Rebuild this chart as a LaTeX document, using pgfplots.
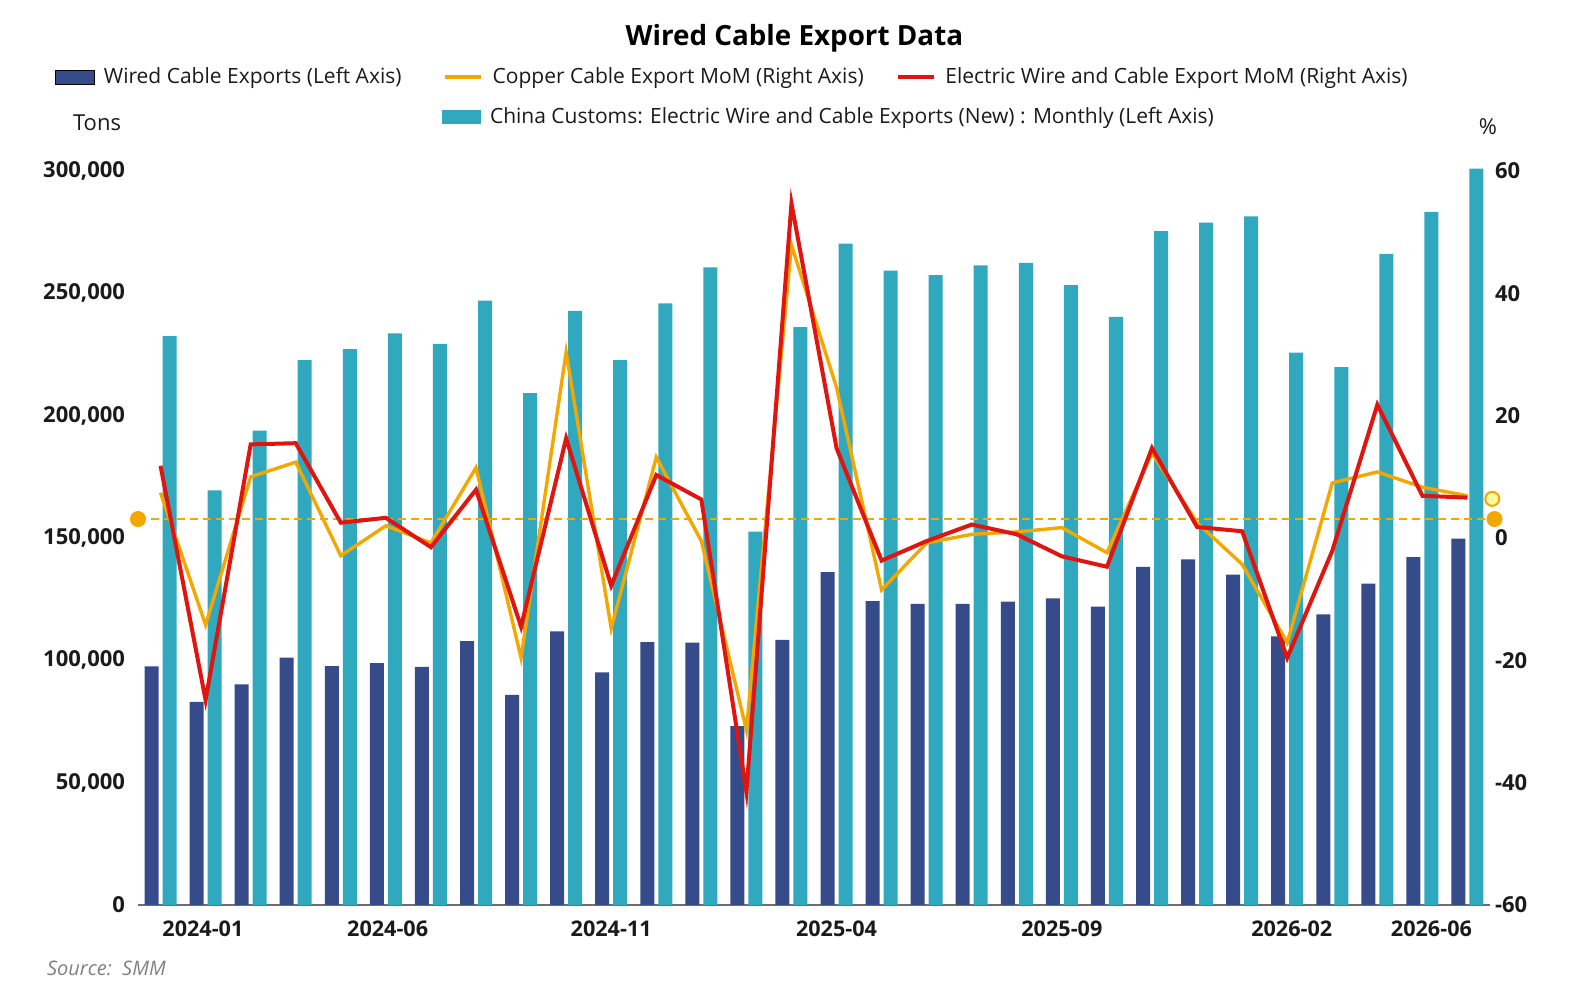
\documentclass[border=0pt]{standalone}
\usepackage{pgfplots}
\usepackage{pgfplotstable}
\pgfplotsset{compat=1.18}
\usepackage{fontspec}
\setmainfont{Open Sans}
\definecolor{navy}{RGB}{54,76,138}
\definecolor{tealc}{RGB}{48,169,191}
\definecolor{orng}{RGB}{244,167,0}
\definecolor{redl}{RGB}{224,21,15}
\definecolor{axgray}{RGB}{110,110,110}
\definecolor{txt}{RGB}{26,26,26}

\pgfplotstableread{
k dark teal red orng
0 97500 232500 11.8 7.4
1 83000 169500 -26.5 -14.2
2 90200 193900 15.3 10.0
3 101100 222700 15.5 12.4
4 97600 227200 2.5 -2.9
5 98900 233600 3.3 2.0
6 97300 229300 -1.5 -0.8
7 107900 247000 7.9 11.5
8 85900 209200 -14.5 -19.6
9 111800 242800 16.3 30.4
10 95100 222700 -7.8 -14.8
11 107400 245900 10.3 13.2
12 107200 260600 6.3 -0.5
13 73100 152600 -41.5 -31.4
14 108400 236200 54.7 47.9
15 136000 270300 14.7 24.6
16 124200 259300 -3.7 -8.5
17 123100 257400 -0.5 -0.8
18 123100 261400 2.2 0.6
19 124000 262400 0.6 1.0
20 125300 253400 -3.0 1.7
21 121900 240400 -4.7 -2.4
22 138200 275400 14.7 13.9
23 141300 278900 1.8 2.5
24 135000 281400 1.1 -4.3
25 109800 225800 -19.6 -17.1
26 118800 219800 -2.1 9.0
27 131300 266100 21.8 10.8
28 142200 283300 6.9 8.3
29 149700 301000 6.6 6.9
}\data

\pgfplotsset{
  barleg/.style={legend image code/.code={\fill[##1] (0pt,-3.5pt) rectangle (19.5pt,3.5pt);}},
  lineleg/.style={legend image code/.code={\draw[##1,line width=2.4pt] (0pt,0pt) -- (18pt,0pt);}},
  commonleg/.style={legend style={draw=none, fill=none, inner sep=0pt, outer sep=0pt,
      anchor=west, nodes={inner sep=0pt, text=txt, font=\fontsize{10.5}{12}\selectfont},
      /tikz/every odd column/.append style={column sep=4.5pt},
      /tikz/every even column/.append style={column sep=0pt}},
      legend cell align=left},
}

\begin{document}
\begin{tikzpicture}
\useasboundingbox (-69pt,-44.5pt) rectangle (722.5pt,452.5pt);
\begin{axis}[
  at={(0,0)}, anchor=south west, scale only axis, width=676pt, height=367pt,
  xmin=-0.5, xmax=29.5, ymin=0, ymax=300000,
  axis x line*=bottom, axis y line*=left,
  x axis line style={draw=axgray, line width=1pt, -},
  y axis line style={draw=none},
  major tick length=0pt,
  xtick={0.94,5.04,10,15,20,25.1,28.2},
  xticklabels={2024-01,2024-06,2024-11,2025-04,2025-09,2026-02,2026-06},
  ytick={0,50000,100000,150000,200000,250000,300000},
  yticklabels={0,{50,000},{100,000},{150,000},{200,000},{250,000},{300,000}},
  scaled y ticks=false,
  xticklabel style={font=\bfseries\fontsize{10.8}{12}\selectfont, text=txt, yshift=-4.5pt},
  yticklabel style={font=\bfseries\fontsize{11}{12}\selectfont, text=txt, xshift=-3pt},
  commonleg,
  legend style={at={(0.22485,1.07357)}},
  clip=false,
]
\addplot[ybar, bar width=7pt, bar shift=-4.5pt, fill=navy, draw=none, forget plot] table[x=k,y=dark]{\data};
\addplot[ybar, bar width=7pt, bar shift=4.5pt, fill=tealc, draw=none, barleg] table[x=k,y=teal]{\data};
\addlegendentry{China Customs: Electric Wire and Cable Exports (New) : Monthly (Left Axis)}
\node[anchor=center, font=\fontsize{11}{12}\selectfont, text=txt] at (axis description cs:-0.0303,1.0654) {Tons};
\node[anchor=center, font=\fontsize{11}{12}\selectfont, text=txt] at (axis description cs:0.9985,1.06) {\%};
\node[anchor=center, font=\bfseries\fontsize{13.9}{15}\selectfont, text=black] at (axis description cs:0.4855,1.181) {Wired Cable Export Data};
\node[anchor=west, font=\itshape\fontsize{10}{12}\selectfont, text=gray] at (axis description cs:-0.0725,-0.086) {Source:\ \ SMM};
\end{axis}
\begin{axis}[
  at={(0,0)}, anchor=south west, scale only axis, width=676pt, height=367pt,
  xmin=-0.5, xmax=29.5, ymin=-60, ymax=60,
  axis x line=none, axis y line*=right,
  y axis line style={draw=none},
  major tick length=0pt,
  ytick={-60,-40,-20,0,20,40,60},
  yticklabels={-60,-40,-20,0,20,40,60},
  yticklabel style={font=\bfseries\fontsize{11}{12}\selectfont, text=txt, xshift=-1pt},
  commonleg,
  legend columns=3,
  legend style={at={(-0.06139,1.12807)}},
  clip=false,
]
\addlegendimage{barleg, fill=navy}
\addlegendentry{\makebox[169.5pt][l]{Wired Cable Exports (Left Axis)}}
\addplot[orng, dashed, dash pattern=on 4pt off 2.5pt, line width=1pt, mark=*, mark size=3.5pt, mark options={solid, fill=orng, draw=orng}, forget plot] coordinates {(-0.5,3.1) (29.6,3.1)};
\addplot[orng, line width=1.7pt, lineleg] table[x=k,y=orng]{\data};
\addlegendentry{\makebox[201.5pt][l]{Copper Cable Export MoM (Right Axis)}}
\addplot[redl, line width=2pt, lineleg] table[x=k,y=red]{\data};
\addlegendentry{Electric Wire and Cable Export MoM (Right Axis)}
\addplot[only marks, mark=*, mark size=3.5pt, mark options={fill=yellow!40!white, draw=orng, line width=1pt}, forget plot] coordinates {(29.55,6.4)};
\end{axis}
\end{tikzpicture}
\end{document}
